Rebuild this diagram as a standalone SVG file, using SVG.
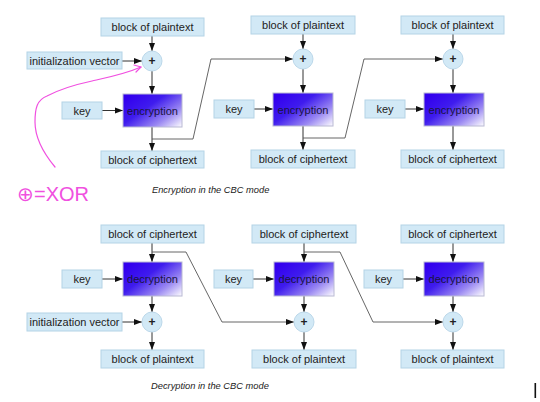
<svg xmlns="http://www.w3.org/2000/svg" width="540" height="402" viewBox="0 0 540 402">
<style>
.box{fill:#d2e9f6;stroke:#b4d3e6;stroke-width:1}
.xor{fill:#d2e9f6;stroke:#bcd8ea;stroke-width:1}
.ciph{fill:url(#g);stroke:#b9b9d4;stroke-width:1}
text{font-family:"Liberation Sans",Arial,sans-serif;font-size:11px;fill:#222;text-anchor:middle}
.ct{fill:#1a1440}
.plus{font-size:12px;font-weight:bold}
.cap{font-size:9.3px;font-style:italic;text-anchor:start;fill:#222}
.ar{stroke:#333;stroke-width:1;fill:none;marker-end:url(#ah)}
.ch{stroke:#555;stroke-width:0.9;fill:none;marker-end:url(#ah)}
.pink{stroke:#f050e0;stroke-width:1.2;fill:none;stroke-linecap:round;stroke-linejoin:round}
</style>
<defs>
<linearGradient id="g" x1="0" y1="0.2" x2="1" y2="1">
<stop offset="0" stop-color="#3300ee"/>
<stop offset="0.35" stop-color="#3f1cee"/>
<stop offset="0.7" stop-color="#9a88f2"/>
<stop offset="1" stop-color="#ffffff"/>
</linearGradient>
<marker id="ah" viewBox="0 0 8 8" refX="8" refY="4" markerWidth="8" markerHeight="8" markerUnits="userSpaceOnUse" orient="auto">
<path d="M0,1 L8,4 L0,7 Z" fill="#111"/>
</marker>
</defs>
<rect width="540" height="402" fill="#fff"/>

<g id="connectors">
<line class="ar" x1="152" y1="36" x2="152" y2="51"/>
<line class="ar" x1="122" y1="61" x2="142" y2="61"/>
<line class="ar" x1="152" y1="71" x2="152" y2="94"/>
<line class="ar" x1="102" y1="110.5" x2="123" y2="110.5"/>
<line class="ar" x1="152" y1="127" x2="152" y2="151"/>
<polyline class="ch" points="152,139 193,139 211,59 293,59"/>
<line class="ar" x1="303" y1="34" x2="303" y2="49"/>
<line class="ar" x1="303" y1="69" x2="303" y2="93"/>
<line class="ar" x1="254" y1="109" x2="273" y2="109"/>
<line class="ar" x1="303" y1="126" x2="303" y2="150"/>
<polyline class="ch" points="303,138 345,138 364,59 443,59"/>
<line class="ar" x1="453" y1="34" x2="453" y2="49"/>
<line class="ar" x1="453" y1="69" x2="453" y2="93"/>
<line class="ar" x1="405" y1="109" x2="424" y2="109"/>
<line class="ar" x1="453" y1="126" x2="453" y2="150"/>
<line class="ar" x1="152" y1="243" x2="152" y2="262"/>
<line class="ar" x1="102" y1="279" x2="123" y2="279"/>
<line class="ar" x1="152" y1="296" x2="152" y2="312"/>
<line class="ar" x1="122" y1="322" x2="142" y2="322"/>
<line class="ar" x1="152" y1="332" x2="152" y2="350"/>
<polyline class="ch" points="152,252 186,252 222,322 294,322"/>
<line class="ar" x1="304" y1="243" x2="304" y2="262"/>
<line class="ar" x1="253" y1="279" x2="274" y2="279"/>
<line class="ar" x1="304" y1="296" x2="304" y2="312"/>
<line class="ar" x1="304" y1="332" x2="304" y2="350"/>
<polyline class="ch" points="304,252 340,252 373,322 443,322"/>
<line class="ar" x1="453" y1="243" x2="453" y2="262"/>
<line class="ar" x1="403" y1="279" x2="424" y2="279"/>
<line class="ar" x1="453" y1="296" x2="453" y2="312"/>
<line class="ar" x1="453" y1="332" x2="453" y2="350"/>
</g>

<g id="e-pt1"><rect class="box" x="101" y="18" width="103" height="18"/><text x="152.5" y="31">block of plaintext</text></g>
<g id="e-iv"><rect class="box" x="27" y="52" width="95" height="17"/><text x="74.5" y="64.5">initialization vector</text></g>
<g id="e-xor1"><circle class="xor" cx="152" cy="61" r="10"/><text class="plus" x="152" y="65">+</text></g>
<g id="e-key1"><rect class="box" x="62" y="102" width="40" height="17"/><text x="82" y="114.5">key</text></g>
<g id="e-enc1"><rect class="ciph" x="123" y="94" width="59" height="33"/><text class="ct" x="152.5" y="114.5">encryption</text></g>
<g id="e-ct1"><rect class="box" x="101" y="151" width="103" height="17"/><text x="152.5" y="163.5">block of ciphertext</text></g>

<g id="e-pt2"><rect class="box" x="251" y="16" width="104" height="18"/><text x="303" y="29">block of plaintext</text></g>
<g id="e-xor2"><circle class="xor" cx="303" cy="59" r="10"/><text class="plus" x="303" y="63">+</text></g>
<g id="e-key2"><rect class="box" x="214" y="100" width="40" height="18"/><text x="234" y="113">key</text></g>
<g id="e-enc2"><rect class="ciph" x="273" y="93" width="60" height="33"/><text class="ct" x="303" y="113.5">encryption</text></g>
<g id="e-ct2"><rect class="box" x="251" y="150" width="104" height="18"/><text x="303" y="163">block of ciphertext</text></g>

<g id="e-pt3"><rect class="box" x="401" y="16" width="103" height="18"/><text x="452.5" y="29">block of plaintext</text></g>
<g id="e-xor3"><circle class="xor" cx="453" cy="59" r="10"/><text class="plus" x="453" y="63">+</text></g>
<g id="e-key3"><rect class="box" x="365" y="100" width="40" height="18"/><text x="385" y="113">key</text></g>
<g id="e-enc3"><rect class="ciph" x="424" y="93" width="60" height="33"/><text class="ct" x="454" y="113.5">encryption</text></g>
<g id="e-ct3"><rect class="box" x="401" y="150" width="103" height="18"/><text x="452.5" y="163">block of ciphertext</text></g>

<text class="cap" x="152" y="193">Encryption in the CBC mode</text>

<g id="d-ct1"><rect class="box" x="101" y="225" width="103" height="18"/><text x="152.5" y="238">block of ciphertext</text></g>
<g id="d-key1"><rect class="box" x="62" y="270" width="40" height="18"/><text x="82" y="283">key</text></g>
<g id="d-dec1"><rect class="ciph" x="123" y="262" width="59" height="34"/><text class="ct" x="152.5" y="283">decryption</text></g>
<g id="d-xor1"><circle class="xor" cx="152" cy="322" r="10"/><text class="plus" x="152" y="326">+</text></g>
<g id="d-iv"><rect class="box" x="27" y="313" width="95" height="18"/><text x="74.5" y="326">initialization vector</text></g>
<g id="d-pt1"><rect class="box" x="101" y="350" width="103" height="18"/><text x="152.5" y="363">block of plaintext</text></g>

<g id="d-ct2"><rect class="box" x="252" y="225" width="104" height="18"/><text x="304" y="238">block of ciphertext</text></g>
<g id="d-key2"><rect class="box" x="214" y="270" width="39" height="18"/><text x="233.5" y="283">key</text></g>
<g id="d-dec2"><rect class="ciph" x="274" y="262" width="60" height="34"/><text class="ct" x="304" y="283">decryption</text></g>
<g id="d-xor2"><circle class="xor" cx="304" cy="322" r="10"/><text class="plus" x="304" y="326">+</text></g>
<g id="d-pt2"><rect class="box" x="252" y="350" width="104" height="18"/><text x="304" y="363">block of plaintext</text></g>

<g id="d-ct3"><rect class="box" x="401" y="225" width="103" height="18"/><text x="452.5" y="238">block of ciphertext</text></g>
<g id="d-key3"><rect class="box" x="364" y="270" width="39" height="18"/><text x="383.5" y="283">key</text></g>
<g id="d-dec3"><rect class="ciph" x="424" y="262" width="60" height="34"/><text class="ct" x="454" y="283">decryption</text></g>
<g id="d-xor3"><circle class="xor" cx="453" cy="322" r="10"/><text class="plus" x="453" y="326">+</text></g>
<g id="d-pt3"><rect class="box" x="401" y="350" width="103" height="18"/><text x="452.5" y="363">block of plaintext</text></g>

<text class="cap" x="151" y="389">Decryption in the CBC mode</text>

<g id="annotation">
<path class="pink" d="M55,167 C45,155 35,140 35,122 C35,108 37,100 47,96 C62,88 78,84 92,81 C110,77 125,74 141,67"/>
<path class="pink" d="M134,65 L141,67 L136,72"/>
<text x="17" y="201" style="font-family:'Liberation Sans',sans-serif;font-size:20px;fill:#f050e0;text-anchor:start">⊕=XOR</text>
</g>

<rect x="534.5" y="383" width="1.6" height="15" fill="#111"/>
</svg>
